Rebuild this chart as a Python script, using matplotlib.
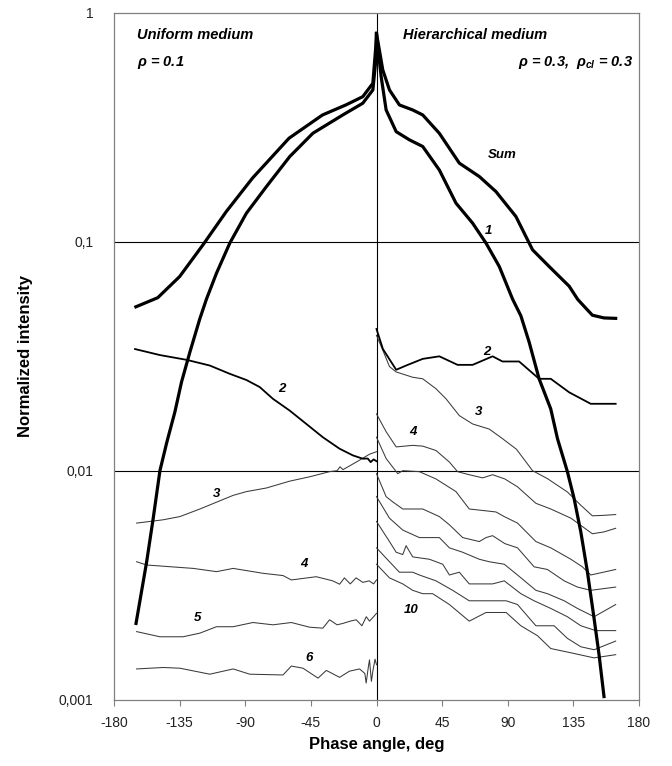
import matplotlib
matplotlib.use("Agg")
import matplotlib.pyplot as plt

# ---------------- data (phase angle in deg, normalized intensity) ----------------
# Uniform medium (left half)
sum_l_x = [-165, -150, -135, -119, -103, -85, -60, -37, -21, -9.4, -2.5, -0.3, 0]
sum_l_y = [0.052, 0.057, 0.0705, 0.097, 0.1356, 0.19, 0.2836, 0.3585, 0.3965, 0.431, 0.493, 0.737, 0.815]

c1_l_x = [-164.9, -157.6, -153.1, -148.5, -143.8, -138.3, -133.7, -128.0, -121.2, -116.6, -109.7,
          -100.6, -89.2, -75.5, -59.5, -43.6, -23.1, -9.4, -2.5, -0.5, 0]
c1_l_y = [0.00215, 0.0040, 0.0062, 0.0100, 0.0133, 0.018, 0.0244, 0.0329, 0.046, 0.0562, 0.073,
          0.0987, 0.1334, 0.1743, 0.2358, 0.2983, 0.3585, 0.4034, 0.461, 0.62, 0.80]

c2_l_x = [-165.6, -148.5, -130.2, -114.3, -100.6, -89.2, -80.1, -71.0, -59.5, -48.1, -36.8, -25.3,
          -16.2, -9.4, -6, -4, -2, 0]
c2_l_y = [0.034, 0.032, 0.0305, 0.0288, 0.0265, 0.0249, 0.0232, 0.0206, 0.0183, 0.016, 0.014, 0.01247,
          0.01166, 0.01128, 0.0113, 0.0109, 0.0112, 0.0110]

c3_l_x = [-164.5, -146.3, -134.8, -121.1, -98.3, -89.2, -75.5, -59.5, -45.9, -32.2, -27, -25, -23,
          -13.9, -4.8, 0]
c3_l_y = [0.0059, 0.0061, 0.0063, 0.0068, 0.0078, 0.0081, 0.0084, 0.0090, 0.0094, 0.0099, 0.0100,
          0.0104, 0.0101, 0.0109, 0.0118, 0.0121]

c4_l_x = [-164.5, -157.6, -125.6, -109.7, -98.3, -77.8, -64.1, -58.4, -41.3, -30, -25.3, -22, -18,
          -14, -9.4, -5, -2, 0]
c4_l_y = [0.0040, 0.00387, 0.00374, 0.00362, 0.00374, 0.00356, 0.00348, 0.00333, 0.00344, 0.0033,
          0.00319, 0.0034, 0.0032, 0.0034, 0.00325, 0.0033, 0.0032, 0.00333]

c5_l_x = [-164.5, -148.5, -132.6, -121.1, -109.7, -98.3, -84.7, -71, -58.4, -45.9, -36.8, -32.2,
          -27, -23.1, -18, -13.9, -10, -7, -4.8, -2, 0]
c5_l_y = [0.00198, 0.00188, 0.00188, 0.00195, 0.00208, 0.00208, 0.00217, 0.00212, 0.00217, 0.00207,
          0.00205, 0.00223, 0.00212, 0.00215, 0.0022, 0.00223, 0.0021, 0.0023, 0.0022, 0.0023, 0.00238]

c6_l_x = [-164.5, -146.3, -134.8, -114.3, -98.3, -86.9, -64.1, -58.4, -50.4, -40.1, -34.4, -25.3,
          -18.5, -11.6, -8, -7.1, -5.5, -4.8, -3.5, -2.5, -1, 0]
c6_l_y = [0.00136, 0.00138, 0.00137, 0.00129, 0.00136, 0.00129, 0.00128, 0.0014, 0.00137, 0.00124,
          0.00134, 0.00125, 0.00133, 0.00136, 0.0013, 0.00118, 0.0014, 0.00149, 0.0012, 0.00133,
          0.0015, 0.00142]

# Hierarchical medium (right half)
sum_r_x = [0, 4.3, 8.9, 15.7, 24.8, 31.7, 43.1, 56.8, 70.5, 81.9, 95.6, 107, 118.4, 132.1, 138,
           148, 156, 164]
sum_r_y = [0.815, 0.564, 0.461, 0.3965, 0.377, 0.3585, 0.298, 0.2207, 0.1929, 0.1658, 0.129, 0.0923,
           0.078, 0.064, 0.056, 0.0478, 0.0465, 0.0463]

c1_r_x = [0, 3.2, 6.6, 13.5, 22.6, 31.7, 43.1, 54.5, 65.9, 75.1, 84.2, 93.3, 99.0, 104.7, 111.5,
          119.5, 124.1, 130.9, 135.5, 140.1, 144.6, 149.2, 152.6, 156.0]
c1_r_y = [0.80, 0.527, 0.377, 0.303, 0.279, 0.261, 0.206, 0.1476, 0.1207, 0.0987, 0.078, 0.0562,
          0.0475, 0.0364, 0.0252, 0.0186, 0.0138, 0.0099, 0.00755, 0.0054, 0.00362, 0.00226,
          0.00157, 0.00103]

c2_r_x = [0, 4.4, 13.5, 20.3, 31.7, 43.1, 55.6, 65.9, 79.6, 86.4, 97.8, 111.5, 119.5, 132.1, 146.9, 164]
c2_r_y = [0.0416, 0.034, 0.0276, 0.0288, 0.0308, 0.0316, 0.029, 0.029, 0.0316, 0.030, 0.030, 0.0252,
          0.0252, 0.022, 0.0196, 0.0196]

c3_r_x = [0, 4.4, 8.9, 13.5, 24.8, 31.7, 40.8, 47.7, 56.8, 65.9, 77.3, 86.4, 96, 107, 117.2, 130.9,
          140.1, 148, 156, 164]
c3_r_y = [0.039, 0.0335, 0.0285, 0.0270, 0.0256, 0.0252, 0.0228, 0.0206, 0.0174, 0.016, 0.0152,
          0.0138, 0.0124, 0.0100, 0.00923, 0.00807, 0.00706, 0.00635, 0.00638, 0.00643]

c4_r_x = [0, 6.6, 13.5, 24.8, 31.7, 40.8, 50, 55.6, 63.6, 72.8, 79.6, 88, 96.7, 109.3, 119.5, 133.3,
          141.2, 148, 156, 164]
c4_r_y = [0.0177, 0.0148, 0.0127, 0.0129, 0.0128, 0.01225, 0.0109, 0.0099, 0.0096, 0.0093, 0.0096,
          0.0092, 0.0085, 0.0072, 0.0068, 0.0062, 0.0057, 0.0053, 0.0054, 0.0056]

c5_r_x = [0, 6.6, 14.6, 18, 29.4, 40.8, 54.5, 63.6, 72.8, 81.9, 87.6, 96.7, 109.3, 119.5, 133.3,
          141.2, 146.9, 164]
c5_r_y = [0.0140, 0.0113, 0.0097, 0.0100, 0.0099, 0.0092, 0.0081, 0.0068, 0.0067, 0.0066, 0.0063,
          0.0059, 0.0049, 0.0046, 0.0041, 0.0038, 0.0035, 0.0037]

c6_r_x = [0, 6.6, 11.2, 18, 31.7, 43.1, 50, 59.1, 70.5, 75.1, 79.6, 88, 96.7, 108.1, 117.2, 128.7,
          137.8, 146.9, 164]
c6_r_y = [0.0097, 0.0077, 0.0073, 0.0068, 0.0068, 0.0063, 0.0058, 0.0051, 0.0049, 0.0051, 0.0052,
          0.0048, 0.0046, 0.0038, 0.0037, 0.0033, 0.0031, 0.0030, 0.0031]

c7_r_x = [0, 8.9, 18, 29.4, 43.1, 50, 59.1, 70.5, 77.3, 87.6, 96.7, 109.3, 117.2, 128.7, 137.8,
          149.2, 164]
c7_r_y = [0.0077, 0.0062, 0.0055, 0.0051, 0.0051, 0.0046, 0.0044, 0.0041, 0.0040, 0.0039, 0.0035,
          0.0030, 0.0029, 0.0027, 0.0025, 0.0023, 0.0026]

c8_r_x = [0, 8.9, 13.5, 18, 20.3, 24.8, 36.3, 45.4, 50, 56.8, 63.6, 79.6, 87.6, 99, 108.1, 119.5,
          130.9, 140.1, 150.4, 164]
c8_r_y = [0.0060, 0.0049, 0.0044, 0.0043, 0.0047, 0.0042, 0.0041, 0.0039, 0.0035, 0.0036, 0.0032,
          0.0032, 0.0033, 0.0029, 0.0027, 0.0025, 0.0023, 0.0021, 0.0020, 0.0020]

c9_r_x = [0, 8.9, 15.7, 24.8, 29.4, 40.8, 52.2, 63.6, 75.1, 88.9, 96.7, 109.3, 121.8, 130.9, 140.1,
          149.2, 164]
c9_r_y = [0.0046, 0.0040, 0.0036, 0.0036, 0.0035, 0.0033, 0.0030, 0.0027, 0.0027, 0.0027, 0.0026,
          0.0021, 0.0021, 0.00185, 0.0017, 0.00165, 0.0018]

c10_r_x = [0, 8.9, 18, 24.8, 31.7, 38.5, 50, 63.6, 75.1, 88.9, 99, 110.4, 119.5, 133.3, 149.2, 164]
c10_r_y = [0.0039, 0.0034, 0.0032, 0.0030, 0.0029, 0.0029, 0.0026, 0.0022, 0.0024, 0.0024, 0.0021,
           0.0019, 0.00167, 0.0016, 0.00152, 0.00157]

y_ticks = [0.001, 0.01, 0.1, 1]
y_ticklabels = ["0,001", "0,01", "0,1", "1"]
x_ticks = [-180, -135, -90, -45, 0, 45, 90, 135, 180]

# ---------------- figure ----------------
plt.rcParams['font.family'] = ['Liberation Sans', 'DejaVu Sans']
plt.rcParams['mathtext.fontset'] = 'custom'
plt.rcParams['mathtext.it'] = 'Liberation Sans:italic:bold'
plt.rcParams['mathtext.rm'] = 'Liberation Sans:bold'

fig = plt.figure(figsize=(6.72, 7.66), dpi=100)
ax = fig.add_axes([114 / 672, (766 - 699.5) / 766, 525 / 672, 686.5 / 766])

thick = dict(color='black', lw=2.3, solid_joinstyle='round', zorder=4)
medium = dict(color='black', lw=1.3, zorder=3)
thin = dict(color='#3a3a3a', lw=0.75, zorder=2)

ax.plot(sum_l_x, sum_l_y, **thick)
ax.plot(c1_l_x, c1_l_y, **thick)
ax.plot(sum_r_x, sum_r_y, **thick)
ax.plot(c1_r_x, c1_r_y, **thick)
ax.plot(c2_l_x, c2_l_y, **medium)
ax.plot(c2_r_x, c2_r_y, **medium)
for xs, ys in [(c3_l_x, c3_l_y), (c4_l_x, c4_l_y), (c5_l_x, c5_l_y), (c6_l_x, c6_l_y),
               (c3_r_x, c3_r_y), (c4_r_x, c4_r_y), (c5_r_x, c5_r_y), (c6_r_x, c6_r_y),
               (c7_r_x, c7_r_y), (c8_r_x, c8_r_y), (c9_r_x, c9_r_y), (c10_r_x, c10_r_y)]:
    ax.plot(xs, ys, **thin)

# grid lines
ax.axhline(0.01, color='black', lw=0.8, zorder=1)
ax.axhline(0.1, color='black', lw=0.8, zorder=1)
ax.axvline(0, color='black', lw=0.8, zorder=1)

ax.set_yscale('log')
ax.set_xlim(-180, 180)
ax.set_ylim(0.001, 1)
ax.set_yticks(y_ticks)
ax.set_yticklabels(y_ticklabels)
ax.minorticks_off()
ax.set_xticks(x_ticks)
ax.set_xticklabels([str(v) for v in x_ticks])
ax.tick_params(axis='y', length=0, pad=15, labelsize=10, labelcolor='#222222')
ax.tick_params(axis='x', direction='out', length=4, width=0.8, color='#808080', pad=8,
               labelsize=10, labelcolor='#222222')
for s in ax.spines.values():
    s.set_color('#808080')
    s.set_linewidth(0.9)

ax.set_xlabel('Phase angle, deg', fontsize=12, fontweight='bold')
ax.xaxis.set_label_coords(0.5, -0.055)
ax.set_ylabel('Normalized intensity', fontsize=12, fontweight='bold')
ax.yaxis.set_label_coords(-0.155, 0.5)

bi = dict(fontsize=10.5, fontweight='bold', fontstyle='italic', color='black')
ax.text(-164, 0.80, 'Uniform medium', ha='left', va='center', **bi)
ax.text(-164, 0.61, r'$\rho$ = 0.1', ha='left', va='center', **bi)
ax.text(18, 0.80, 'Hierarchical medium', ha='left', va='center', **bi)
ax.text(176, 0.61, r'$\rho$ = 0.3,  $\rho_{cl}$ = 0.3', ha='right', va='center', **bi)

lab = dict(fontsize=9.5, fontweight='bold', fontstyle='italic', color='black', ha='center', va='center')
ax.text(86, 0.24, 'Sum', **lab)
ax.text(77, 0.112, '1', **lab)
ax.text(-65, 0.0228, '2', **lab)
ax.text(76, 0.033, '2', **lab)
ax.text(70, 0.018, '3', **lab)
ax.text(25, 0.0148, '4', **lab)
ax.text(-110, 0.0079, '3', **lab)
ax.text(-50, 0.0039, '4', **lab)
ax.text(-123, 0.00228, '5', **lab)
ax.text(-46, 0.00152, '6', **lab)
ax.text(24, 0.00245, '10', **lab)

fig.savefig('out.png', dpi=100)
